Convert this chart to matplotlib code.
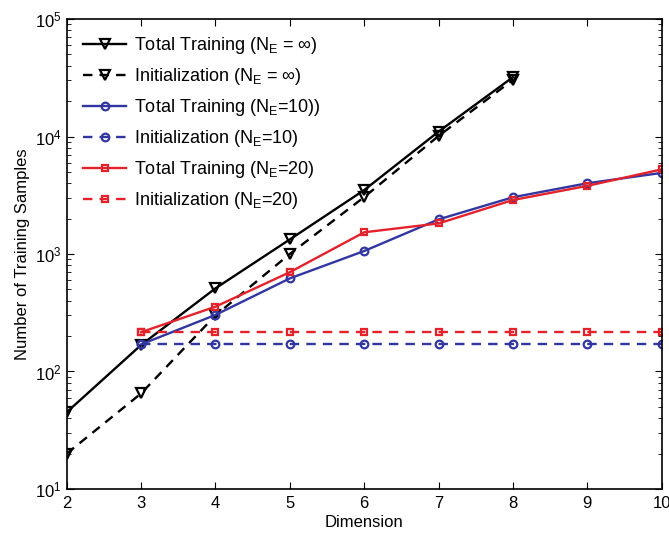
import matplotlib.pyplot as plt
from matplotlib.ticker import LogLocator, NullFormatter

plt.rcParams['font.family'] = ['Liberation Sans', 'DejaVu Sans']
plt.rcParams['mathtext.fontset'] = 'custom'
plt.rcParams['mathtext.rm'] = 'Liberation Sans'
plt.rcParams['mathtext.it'] = 'Liberation Sans'

# data
dim_inf = [2, 3, 4, 5, 6, 7, 8]
total_inf = [45, 168, 510, 1330, 3500, 11000, 32000]
init_inf = [20, 65, 300, 1000, 3050, 10100, 30300]

dim_ne = [3, 4, 5, 6, 7, 8, 9, 10]
total_10 = [170, 303, 620, 1060, 1970, 3040, 4000, 4900]
init_10 = [170] * 8
total_20 = [216, 356, 700, 1530, 1820, 2880, 3800, 5250]
init_20 = [216] * 8

labels = [
    r'Total Training ($\mathrm{N_E}$ = $\infty$)',
    r'Initialization ($\mathrm{N_E}$ = $\infty$)',
    r'Total Training ($\mathrm{N_E}$=10))',
    r'Initialization ($\mathrm{N_E}$=10)',
    r'Total Training ($\mathrm{N_E}$=20)',
    r'Initialization ($\mathrm{N_E}$=20)',
]

blue = '#3236a0'
red = '#e3222b'
dash = (4, 3)

fig = plt.figure(figsize=(6.69, 5.34), dpi=100)
ax = fig.add_axes([0.0997, 0.0843, 0.8893, 0.8801])

mk = dict(markerfacecolor='none', markeredgewidth=1.6, linewidth=1.7)
ax.plot(dim_inf, total_inf, '-v', color='black', markersize=7, label=labels[0], **mk)
ax.plot(dim_inf, init_inf, '--v', color='black', dashes=dash, markersize=7, label=labels[1], **mk)
ax.plot(dim_ne, total_10, '-o', color=blue, markersize=5.5, label=labels[2], **mk)
ax.plot(dim_ne, init_10, '--o', color=blue, dashes=dash, markersize=5.5, label=labels[3], **mk)
ax.plot(dim_ne, total_20, '-s', color=red, markersize=5, label=labels[4], **mk)
ax.plot(dim_ne, init_20, '--s', color=red, dashes=dash, markersize=5, label=labels[5], **mk)

ax.set_yscale('log')
ax.set_xlim(2, 10)
ax.set_ylim(10, 1e5)
ax.set_xticks(range(2, 11))
ax.yaxis.set_major_locator(LogLocator(base=10, numticks=10))
ax.yaxis.set_minor_locator(LogLocator(base=10, subs=range(2, 10), numticks=20))
ax.yaxis.set_minor_formatter(NullFormatter())
ax.tick_params(which='both', direction='in', top=True, right=True, labelsize=12)
ax.tick_params(which='major', length=5, width=0.8)
ax.tick_params(which='minor', length=3, width=0.6)
ax.tick_params(axis='x', pad=5)
for s in ax.spines.values():
    s.set_linewidth(1.2)

ax.set_xlabel('Dimension', fontsize=12, labelpad=3)
ax.set_ylabel('Number of Training Samples', fontsize=12, labelpad=4)

ax.legend(loc='upper left', frameon=False, fontsize=13, handlelength=2.4,
          labelspacing=0.55, borderaxespad=0.5, handletextpad=0.4)

fig.savefig('out.png', dpi=100)
